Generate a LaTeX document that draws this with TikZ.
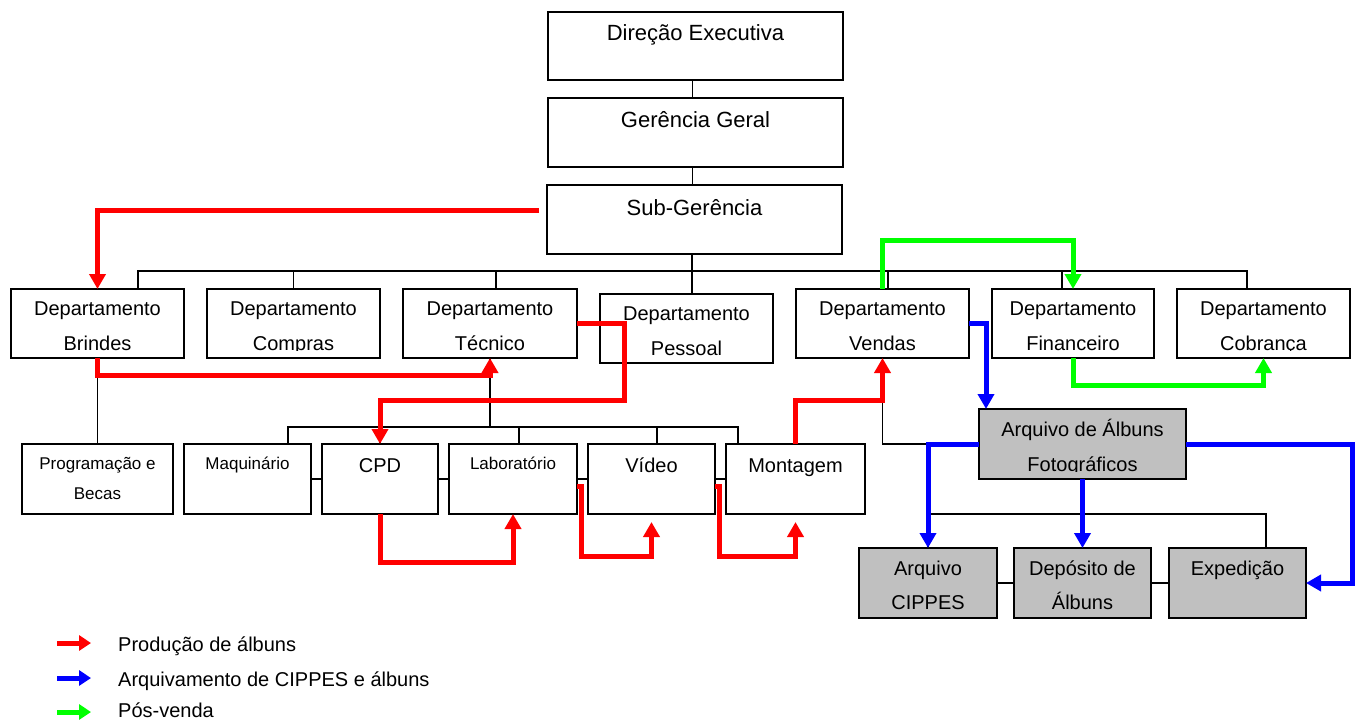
\documentclass[tikz,border=0pt]{standalone}
\usepackage{fontspec}
\setmainfont{Liberation Sans}
\usetikzlibrary{arrows.meta}
\definecolor{prodred}{RGB}{255,0,0}
\definecolor{archblue}{RGB}{0,0,255}
\definecolor{postgreen}{RGB}{0,255,0}
\definecolor{boxgray}{RGB}{192,192,192}
\tikzset{
  unitframe/.style={draw=black, line width=2pt, fill=white, inner sep=0pt, outer sep=0pt},
  grayfill/.style={fill=boxgray},
  plainfill/.style={},
  boxtext/.style={inner sep=0pt, outer sep=0pt, anchor=north, align=center},
  t22/.style={font=\fontsize{22}{26}\selectfont},
  t20/.style={font=\fontsize{20}{35}\selectfont},
  t20b/.style={font=\fontsize{20}{34}\selectfont},
  t17/.style={font=\fontsize{17}{30}\selectfont},
  link/.style={draw=black, line width=1.4pt},
  flow/.style={line width=5pt, -{Triangle[width=16pt,length=15pt]}},
  prod/.style={flow, draw=prodred},
  arch/.style={flow, draw=archblue},
  post/.style={flow, draw=postgreen},
  legarrow/.style={line width=5pt, -{Triangle[width=15pt,length=12pt]}},
  legtext/.style={anchor=base west, inner sep=0pt, font=\fontsize{20}{24}\selectfont},
}
% #1 name, #2 fill style, #3-#6 corners (x1,y1,x2,y2), #7 text style, #8 text
% the first text line is given a fixed height of 19pt so the node top sits 19pt above its baseline
\newcommand\unitbox[8]{%
  \node[unitframe,#2,anchor=north west,minimum width={#5pt-#3pt},minimum height={#6pt-#4pt}] (#1) at (#3,#4) {};
  \begin{scope}
    \clip ([yshift=8pt]#1.south west) rectangle (#1.north east);
    \node[boxtext,#7] (#1-text) at (#1.north) {\rule{0pt}{19pt}#8};
  \end{scope}}
\begin{document}
\begin{tikzpicture}[x=1pt,y=-1pt]
\useasboundingbox (0,0) rectangle (1367,722);

% management
\unitbox{dir}{plainfill}{548}{12}{843}{80}{t22,yshift=-10pt}{Direção Executiva}
\unitbox{ger}{plainfill}{548}{98}{843}{167}{t22,yshift=-11pt}{Gerência Geral}
\unitbox{subg}{plainfill}{547}{185}{842}{254}{t22,yshift=-11pt}{Sub-Gerência}

% departments
\unitbox{brindes}{plainfill}{11}{289}{184}{358}{t20,yshift=-7pt}{Departamento\\Brindes}
\unitbox{compras}{plainfill}{207}{289}{380}{358}{t20,yshift=-7pt}{Departamento\\Compras}
\unitbox{tecnico}{plainfill}{403}{289}{577}{358}{t20,yshift=-7pt}{Departamento\\Técnico}
\unitbox{pessoal}{plainfill}{600}{294}{773}{363}{t20,yshift=-7pt}{Departamento\\Pessoal}
\unitbox{vendas}{plainfill}{796}{289}{969}{358}{t20,yshift=-7pt}{Departamento\\Vendas}
\unitbox{fin}{plainfill}{992}{289}{1154}{358}{t20,yshift=-7pt}{Departamento\\Financeiro}
\unitbox{cobr}{plainfill}{1177}{289}{1350}{358}{t20,yshift=-7pt}{Departamento\\Cobrança}

% sections
\unitbox{prog}{plainfill}{22}{444}{173}{514}{t17,yshift=-6pt}{Programação e\\Becas}
\unitbox{maq}{plainfill}{184}{444}{311}{514}{t17,yshift=-6pt}{Maquinário}
\unitbox{cpd}{plainfill}{322}{444}{438}{514}{t20,yshift=-9pt}{CPD}
\unitbox{lab}{plainfill}{449}{444}{577}{514}{t17,yshift=-6pt}{Laboratório}
\unitbox{video}{plainfill}{588}{444}{715}{514}{t20,yshift=-9pt}{Vídeo}
\unitbox{mont}{plainfill}{726}{444}{865}{514}{t20,yshift=-9pt}{Montagem}

% archive
\unitbox{arq}{grayfill}{979}{409}{1186}{479}{t20,yshift=-8pt}{Arquivo de Álbuns\\Fotográficos}
\unitbox{cippes}{grayfill}{859}{548}{997}{618}{t20b,yshift=-8pt}{Arquivo\\CIPPES}
\unitbox{dep}{grayfill}{1014}{548}{1151}{618}{t20b,yshift=-8pt}{Depósito de\\Álbuns}
\unitbox{exped}{grayfill}{1169}{548}{1306}{618}{t20b,yshift=-8pt}{Expedição}

% hierarchy lines
\draw[link] ([xshift=-3pt]dir.south) -- ([xshift=-3pt]ger.north);
\draw[link] ([xshift=-3pt]ger.south) -- ([xshift=-2pt]subg.north);
\draw[link] ([xshift=-2.5pt]subg.south) -- ++(0,40);
\draw[link] ([xshift=40.5pt]brindes.north) -- ++(0,-18) -| ([xshift=-16.5pt]cobr.north);
\draw[link] (compras.north) -- ++(0,-18);
\draw[link] ([xshift=6pt]tecnico.north) -- ++(0,-18);
\draw[link] ([xshift=5.5pt]vendas.north) -- ++(0,-18);
\draw[link] ([xshift=-11pt]fin.north) -- ++(0,-18);
\draw[link] (brindes.south) -- (prog.north);
\draw[link] (tecnico.south) -- ++(0,69);
\draw[link] ([xshift=40.5pt]maq.north) -- ++(0,-17) -| ([xshift=-57.5pt]mont.north);
\draw[link] (cpd.north) -- ++(0,-17);
\draw[link] ([xshift=6pt]lab.north) -- ++(0,-17);
\draw[link] ([xshift=5.5pt]video.north) -- ++(0,-17);
\draw[link] (maq.east) -- (cpd.west);
\draw[link] (cpd.east) -- (lab.west);
\draw[link] (lab.east) -- (video.west);
\draw[link] (video.east) -- (mont.west);
\draw[link] (vendas.south) |- (arq.west);
\draw[link] (cippes.north) -- ++(0,-34) -| ([xshift=28.5pt]exped.north);
\draw[link] (arq.south) -- (dep.north);
\draw[link] (cippes.east) -- (dep.west);
\draw[link] (dep.east) -- (exped.west);

% album production
\draw[prod] ([xshift=-8pt,yshift=9.5pt]subg.west) -| (brindes.north);
\draw[prod] (brindes.south) -- ++(0,17) -| (tecnico.south);
\draw[prod] (tecnico.east) -| (624,400) -| (cpd.north);
\draw[prod] (cpd.south) -- ++(0,48) -| (lab.south);
\draw[prod, shorten >=8pt] ([yshift=-7pt]lab.east) -- ++(4,0) -- ++(0,70) -| (video.south);
\draw[prod, shorten >=8pt] ([yshift=-7pt]video.east) -- ++(4,0) -- ++(0,70) -| (mont.south);
\draw[prod] (mont.north) -- ++(0,-44) -| (vendas.south);

% archiving
\draw[arch] (vendas.east) -| ([xshift=7pt]arq.north west);
\draw[arch] (arq.west) -| (cippes.north);
\draw[arch] (arq.south) -- (dep.north);
\draw[arch] (arq.east) -- ++(166,0) |- (exped.east);

% after-sales
\draw[post] (vendas.north) -- ++(0,-49) -| (fin.north);
\draw[post] (fin.south) -- ++(0,27) -| (cobr.south);

% legend
\coordinate (k1) at (57,643);
\coordinate (k2) at (57,678);
\coordinate (k3) at (57,712);
\draw[legarrow, prodred] (k1) -- ++(34,0);
\draw[legarrow, archblue] (k2) -- ++(34,0);
\draw[legarrow, postgreen] (k3) -- ++(34,0);
\node[legtext] (l1) at (118,651) {Produção de álbuns};
\node[legtext] (l2) at (118,686) {Arquivamento de CIPPES e álbuns};
\node[legtext] (l3) at (118,717) {Pós-venda};
\end{tikzpicture}
\end{document}
